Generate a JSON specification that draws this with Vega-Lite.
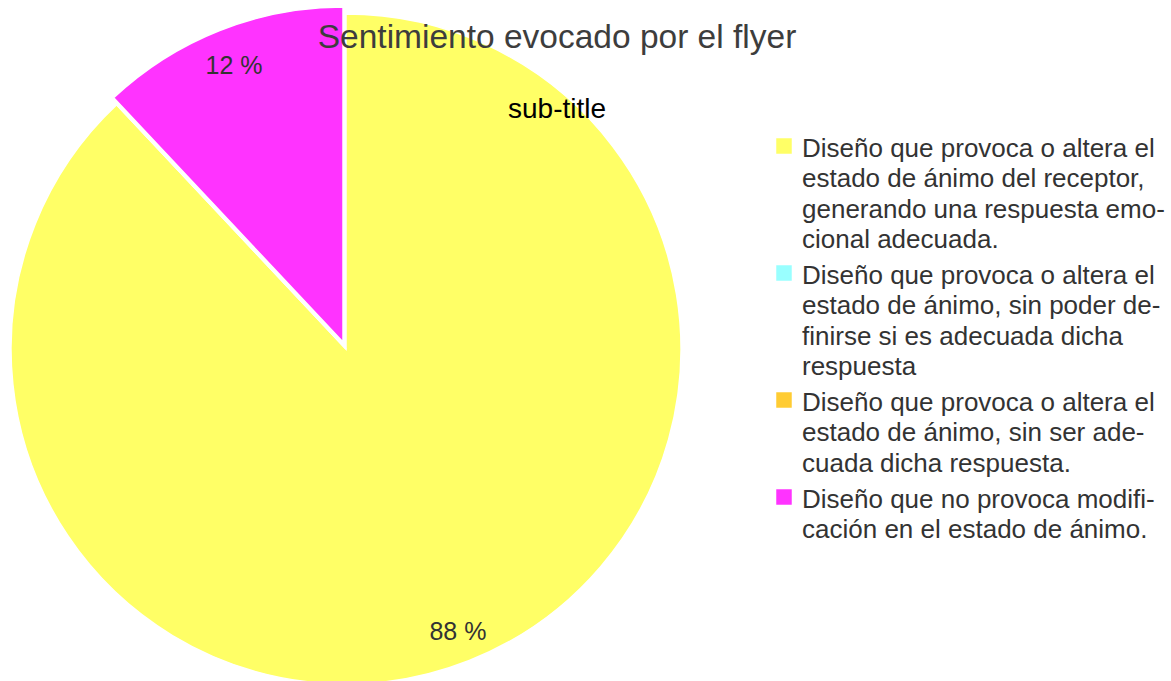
{
  "$schema": "https://vega.github.io/schema/vega-lite/v6.json",
  "width": 692,
  "height": 681,
  "autosize": "none",
  "padding": {"left": 0, "top": 0, "right": 479, "bottom": 0},
  "background": "white",
  "title": {
    "text": "Sentimiento evocado por el flyer",
    "subtitle": "sub-title",
    "anchor": "middle",
    "frame": "group",
    "offset": 0,
    "dx": 211,
    "dy": 125,
    "font": "Liberation Sans",
    "fontSize": 33.5,
    "fontWeight": "normal",
    "color": "#3d3d3d",
    "subtitleFont": "Liberation Sans",
    "subtitleFontSize": 28,
    "subtitleColor": "#000000",
    "subtitlePadding": 41
  },
  "data": {
    "values": [
      {"categoria": "Diseño que provoca o altera el estado de ánimo del receptor, generando una respuesta emocional adecuada.", "valor": 88, "orden": 1, "etiqueta": "88 %", "separado": "no"},
      {"categoria": "Diseño que provoca o altera el estado de ánimo, sin poder definirse si es adecuada dicha respuesta", "valor": 0, "orden": 2, "etiqueta": "", "separado": "no"},
      {"categoria": "Diseño que provoca o altera el estado de ánimo, sin ser adecuada dicha respuesta.", "valor": 0, "orden": 3, "etiqueta": "", "separado": "no"},
      {"categoria": "Diseño que no provoca modificación en el estado de ánimo.", "valor": 12, "orden": 4, "etiqueta": "12 %", "separado": "si"}
    ]
  },
  "transform": [
    {"stack": "valor", "groupby": [], "sort": [{"field": "orden", "order": "ascending"}], "as": ["t0", "t1"]}
  ],
  "encoding": {
    "color": {
      "field": "categoria",
      "type": "nominal",
      "sort": null,
      "scale": {
        "domain": [
          "Diseño que provoca o altera el estado de ánimo del receptor, generando una respuesta emocional adecuada.",
          "Diseño que provoca o altera el estado de ánimo, sin poder definirse si es adecuada dicha respuesta",
          "Diseño que provoca o altera el estado de ánimo, sin ser adecuada dicha respuesta.",
          "Diseño que no provoca modificación en el estado de ánimo."
        ],
        "range": ["#ffff66", "#99ffff", "#ffcc33", "#ff33ff"]
      },
      "legend": {
        "title": null,
        "orient": "none",
        "legendX": 771,
        "legendY": 133,
        "symbolType": "square",
        "symbolSize": 240,
        "symbolStrokeWidth": 0,
        "labelFont": "Liberation Sans",
        "labelFontSize": 26,
        "labelColor": "#333333",
        "labelLimit": 500,
        "labelOffset": 5,
        "labelBaseline": "top",
        "rowPadding": 7,
        "labelExpr": "indexof(datum.label, 'receptor') >= 0 ? ['Diseño que provoca o altera el', 'estado de ánimo del receptor,', 'generando una respuesta emo-', 'cional adecuada.'] : indexof(datum.label, 'poder') >= 0 ? ['Diseño que provoca o altera el', 'estado de ánimo, sin poder de-', 'finirse si es adecuada dicha', 'respuesta'] : indexof(datum.label, 'sin ser') >= 0 ? ['Diseño que provoca o altera el', 'estado de ánimo, sin ser ade-', 'cuada dicha respuesta.'] : ['Diseño que no provoca modifi-', 'cación en el estado de ánimo.']"
      }
    }
  },
  "layer": [
    {
      "transform": [{"filter": "datum.separado == 'no'"}],
      "mark": {"type": "arc", "radius": 335, "yOffset": 8.5, "stroke": "white", "strokeWidth": 1.5},
      "encoding": {
        "theta": {"field": "t0", "type": "quantitative", "scale": {"domain": [0, 100]}},
        "theta2": {"field": "t1"}
      }
    },
    {
      "transform": [{"filter": "datum.separado == 'si'"}],
      "mark": {"type": "arc", "radius": 335, "xOffset": -3, "yOffset": 1.5, "stroke": "white", "strokeWidth": 1.5},
      "encoding": {
        "theta": {"field": "t0", "type": "quantitative", "scale": {"domain": [0, 100]}},
        "theta2": {"field": "t1"}
      }
    },
    {
      "mark": {"type": "text", "radius": 304, "yOffset": 8.5, "font": "Liberation Sans", "fontSize": 25, "color": "#333333"},
      "encoding": {
        "theta": {"field": "valor", "type": "quantitative", "stack": true},
        "order": {"field": "orden", "type": "quantitative"},
        "text": {"field": "etiqueta", "type": "nominal"},
        "color": {"value": "#333333"}
      }
    }
  ],
  "config": {
    "view": {"stroke": null},
    "style": {"guide-label": {"lineHeight": 30.3, "dy": -10}}
  }
}
